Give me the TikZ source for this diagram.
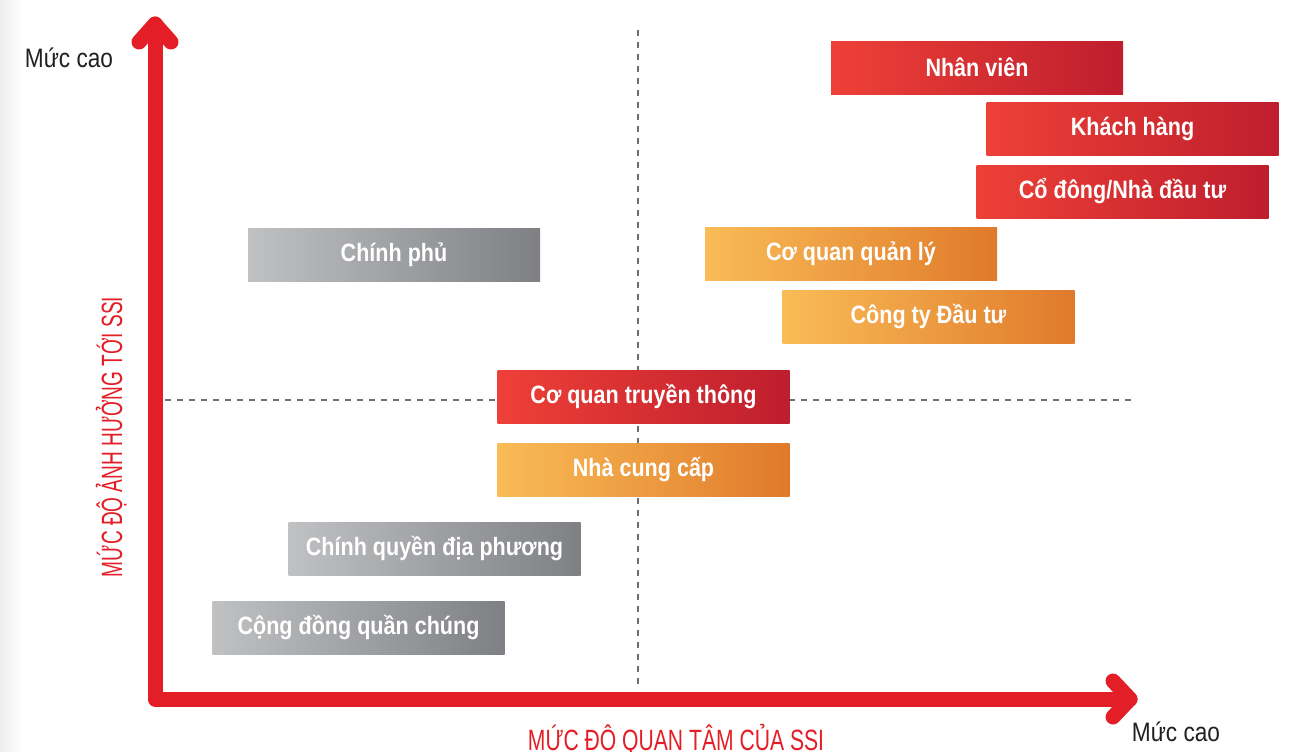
\documentclass[tikz,border=0pt]{standalone}
\usepackage{fontspec}
\setmainfont{Liberation Sans}
\newfontfamily\boxfont[FakeStretch=0.86]{Liberation Sans Bold}
\newfontfamily\levelfont[FakeStretch=0.85]{Liberation Sans}
\newfontfamily\axisfont[FakeStretch=0.72]{Liberation Sans}
\newfontfamily\yaxisfont[FakeStretch=0.65]{Liberation Sans}
\definecolor{axisred}{HTML}{E31E26}
\definecolor{redL}{HTML}{EE4037}
\definecolor{redR}{HTML}{BE1E2D}
\definecolor{orangeL}{HTML}{F9BC56}
\definecolor{orangeR}{HTML}{E07A2B}
\definecolor{greyL}{HTML}{C0C1C3}
\definecolor{greyR}{HTML}{7E8083}
\definecolor{dashgrey}{HTML}{6D6E70}
\definecolor{labelgrey}{HTML}{231F20}
\begin{document}
\begin{tikzpicture}[x=0.75pt,y=-0.75pt,
  stakebox/.style={minimum width=219pt, minimum height=39.75pt, inner sep=0pt, text=white,
    font=\boxfont\fontsize{18.8}{20}\selectfont},
  redbox/.style={stakebox, left color=redL, right color=redR},
  orangebox/.style={stakebox, left color=orangeL, right color=orangeR},
  greybox/.style={stakebox, left color=greyL, right color=greyR},
  quadline/.style={draw=dashgrey, line width=0.9pt, dash pattern=on 4.5pt off 4.5pt},
  axisline/.style={draw=axisred, line width=11.25pt, line cap=round, line join=round},
  levellabel/.style={text=labelgrey, inner sep=0pt, font=\levelfont\fontsize{20}{22}\selectfont},
  axislabel/.style={text=axisred, inner sep=0pt, font=\axisfont\fontsize{22}{24}\selectfont}]
\useasboundingbox (0,0) rectangle (1300,751);
% page shadow on the left edge
\fill[left color=black!7, right color=white] (0,0) rectangle (22,751);
% quadrant lines
\coordinate (qtop) at (638,30);
\coordinate (qbottom) at (638,690);
\coordinate (qleft) at (165,400);
\coordinate (qright) at (1135,400);
\draw[quadline] (qtop) -- (qbottom);
\draw[quadline] (qleft) -- (qright);
% axes
\coordinate (ytop) at (155,24);
\coordinate (origin) at (155,699);
\coordinate (xend) at (1130,699);
\draw[axisline] (ytop) -- (origin) -- (xend);
\draw[axisline] (ytop) ++(-16,18) -- (ytop) -- ++(16,18);
\draw[axisline] (xend) ++(-17,-18) -- (xend) -- ++(-17,18);
% stakeholders
\node[redbox] (nhanvien) at (977,67.5) {Nhân viên};
\node[redbox] (khachhang) at (1132.5,128.5) {Khách hàng};
\node[redbox] (codong) at (1122.5,191.5) {Cổ đông/Nhà đầu tư};
\node[orangebox] (quanly) at (851,253.5) {Cơ quan quản lý};
\node[orangebox] (congty) at (928.5,316.5) {Công ty Đầu tư};
\node[greybox] (chinhphu) at (394,254.5) {Chính phủ};
\node[redbox] (truyenthong) at (643.5,396.5) {Cơ quan truyền thông};
\node[orangebox] (cungcap) at (643.5,469.5) {Nhà cung cấp};
\node[greybox] (diaphuong) at (434.5,548.5) {Chính quyền địa phương};
\node[greybox] (congdong) at (358.5,627.5) {Cộng đồng quần chúng};
% labels
\node[levellabel] (yhigh) at (69,58) {Mức cao};
\node[levellabel] (xhigh) at (1176,732) {Mức cao};
\node[axislabel, font=\yaxisfont\fontsize{22}{24}\selectfont, rotate=90, anchor=base] (ylabel) at (122,437) {MỨC ĐỘ ẢNH HƯỞNG TỚI SSI};
\node[axislabel, anchor=base] (xlabel) at (676,750) {MỨC ĐỘ QUAN TÂM CỦA SSI};
\end{tikzpicture}
\end{document}
